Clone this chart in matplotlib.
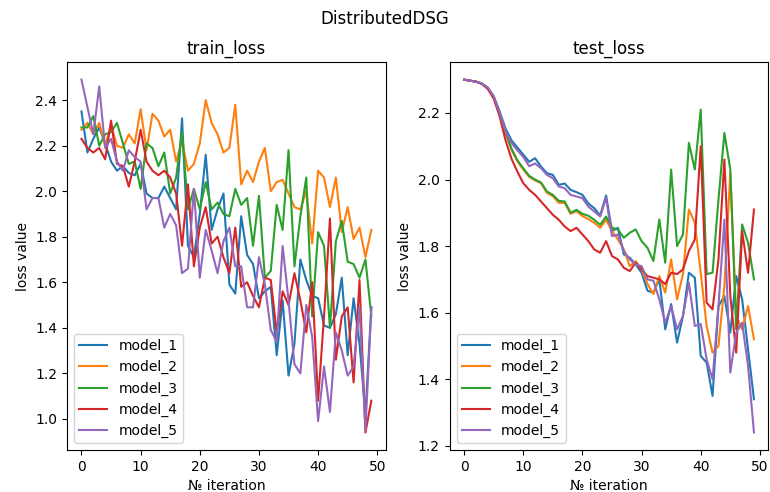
import numpy as np
import matplotlib
matplotlib.use('Agg')
import matplotlib.pyplot as plt

iters = np.arange(50)
labels = ['model_1', 'model_2', 'model_3', 'model_4', 'model_5']

# train loss
tr1 = [2.35,2.17,2.23,2.28,2.21,2.13,2.09,2.11,2.08,2.07,2.12,1.99,1.97,1.97,2.02,1.97,1.92,2.32,1.76,1.71,
       1.90,2.16,1.83,1.92,1.99,1.59,1.55,1.89,1.72,1.68,1.53,1.56,1.58,1.28,1.52,1.19,1.33,1.70,1.61,1.54,
       1.53,1.41,1.40,1.46,1.62,1.28,1.53,1.33,1.02,1.49]
tr2 = [2.27,2.30,2.25,2.30,2.20,2.29,2.20,2.19,2.25,2.21,2.36,2.18,2.34,2.31,2.24,2.27,2.13,2.22,2.09,2.12,
       2.21,2.40,2.30,2.25,2.17,2.19,2.38,2.03,2.09,2.04,2.13,2.19,2.00,2.04,2.05,1.99,1.93,1.92,2.00,1.77,
       2.09,2.06,1.93,2.06,1.82,1.93,1.79,1.84,1.71,1.83]
tr3 = [2.28,2.28,2.33,2.20,2.25,2.26,2.30,2.21,2.12,2.13,2.01,2.21,2.19,2.11,2.17,1.99,2.06,2.26,1.92,2.01,
       1.92,2.04,1.92,1.95,1.90,1.89,2.01,1.94,1.97,1.76,1.98,1.62,1.65,1.94,1.83,2.18,1.67,1.89,2.06,1.45,
       1.82,1.76,1.40,1.78,1.87,1.69,1.68,1.62,1.70,1.45]
tr4 = [2.23,2.19,2.17,2.19,2.14,2.31,2.12,2.11,2.02,2.13,2.27,2.13,2.09,2.07,2.09,2.06,1.99,1.76,2.03,1.67,
       1.84,1.93,1.77,1.80,1.71,1.64,1.84,1.58,1.60,1.54,1.49,1.62,1.61,1.38,1.56,1.50,1.64,1.52,1.38,1.60,
       1.08,1.45,1.88,1.26,1.45,1.49,1.16,1.61,0.94,1.08]
tr5 = [2.49,2.37,2.25,2.46,2.19,2.23,2.13,2.09,2.18,2.15,2.13,1.92,1.97,1.97,1.84,1.90,1.85,1.64,1.66,2.01,
       1.62,1.83,1.74,1.64,1.78,1.84,1.67,1.67,1.49,1.49,1.71,1.59,1.39,1.34,1.76,1.52,1.24,1.20,1.50,1.36,
       0.99,1.23,1.03,1.38,1.30,1.19,1.23,1.49,0.95,1.49]

# test loss
te1 = [2.30,2.297,2.294,2.288,2.276,2.25,2.205,2.153,2.118,2.096,2.075,2.053,2.064,2.039,2.019,2.014,1.984,1.988,1.969,1.962,
       1.954,1.928,1.914,1.892,1.952,1.845,1.855,1.775,1.765,1.745,1.72,1.666,1.66,1.70,1.55,1.626,1.51,1.59,1.72,1.705,
       1.47,1.45,1.35,1.62,1.65,1.54,1.71,1.64,1.49,1.34]
te2 = [2.30,2.297,2.294,2.288,2.275,2.248,2.198,2.14,2.09,2.055,2.03,2.008,1.997,1.989,1.96,1.95,1.93,1.93,1.897,1.905,
       1.89,1.881,1.87,1.855,1.879,1.845,1.82,1.79,1.74,1.755,1.73,1.686,1.656,1.71,1.66,1.76,1.64,1.716,1.91,1.87,
       1.72,1.56,1.48,1.50,1.68,2.02,1.59,1.55,1.62,1.52]
te3 = [2.30,2.297,2.294,2.288,2.275,2.248,2.20,2.143,2.093,2.058,2.034,2.011,2.0,1.991,1.964,1.954,1.936,1.934,1.90,1.909,
       1.897,1.891,1.879,1.864,1.889,1.855,1.85,1.825,1.84,1.85,1.815,1.795,1.755,1.88,1.75,2.03,1.80,1.835,2.11,2.03,
       2.21,1.716,1.72,1.94,2.14,2.03,1.55,1.865,1.81,1.70]
te4 = [2.30,2.297,2.294,2.287,2.272,2.243,2.19,2.118,2.063,2.024,1.989,1.969,1.954,1.934,1.914,1.894,1.879,1.859,1.845,1.855,
       1.835,1.815,1.79,1.78,1.815,1.77,1.76,1.735,1.725,1.75,1.73,1.71,1.705,1.70,1.686,1.72,1.716,1.73,1.785,1.82,
       2.10,1.63,1.61,1.76,2.06,1.65,1.48,1.845,1.72,1.91]
te5 = [2.30,2.297,2.294,2.288,2.276,2.25,2.20,2.145,2.11,2.088,2.068,2.04,2.048,2.034,2.014,2.004,1.979,1.974,1.954,1.949,
       1.944,1.919,1.904,1.889,1.945,1.83,1.835,1.785,1.76,1.745,1.74,1.70,1.696,1.64,1.57,1.62,1.55,1.59,1.69,1.56,
       1.566,1.46,1.40,1.62,1.88,1.42,1.54,1.57,1.44,1.24]

train = [tr1, tr2, tr3, tr4, tr5]
test = [te1, te2, te3, te4, te5]

fig, axs = plt.subplots(1, 2, figsize=(7.7, 4.92), dpi=100)
fig.subplots_adjust(left=0.087, right=0.998, top=0.874, bottom=0.085, wspace=0.2)
fig.suptitle('DistributedDSG')

for ax, data, name in zip(axs, [train, test], ['train_loss', 'test_loss']):
    for y, lab in zip(data, labels):
        ax.plot(iters, y, label=lab)
    ax.set_title(name)
    ax.set_xlabel('№ iteration')
    ax.set_ylabel('loss value')
    ax.legend(loc='lower left')

fig.savefig('out.png')
